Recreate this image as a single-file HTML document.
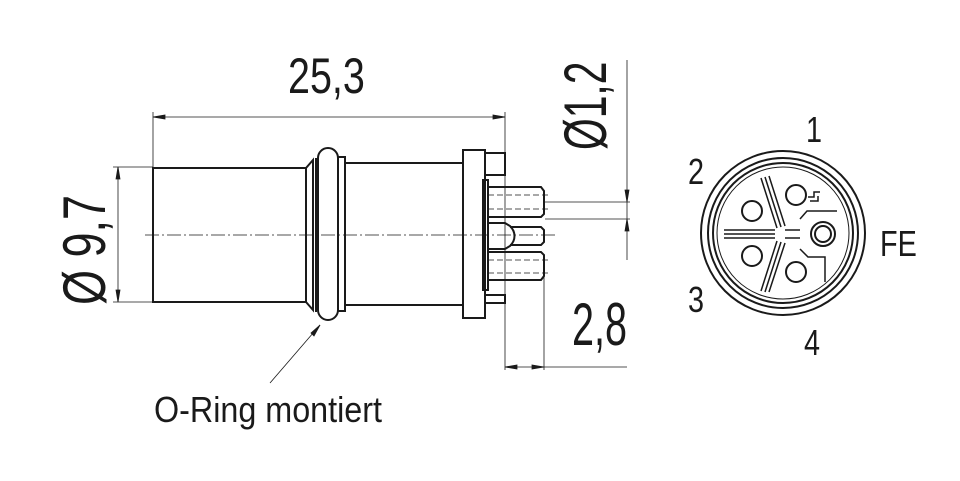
<!DOCTYPE html>
<html><head><style>body{margin:0;background:#fff}svg{display:block}</style></head><body>
<svg width="960" height="481" viewBox="0 0 960 481" xmlns="http://www.w3.org/2000/svg" font-family="Liberation Sans, sans-serif" fill="none" stroke="#1a1a1a">
<g stroke-width="0.8">
<line x1="153" y1="112" x2="153" y2="167"/>
<line x1="505" y1="112" x2="505" y2="370"/>
<line x1="153" y1="117" x2="505" y2="117"/>
<path d="M153 117 l12 -2 v4z M505 117 l-12 -2 v4z" fill="#1a1a1a"/>
<line x1="113" y1="167" x2="153" y2="167"/>
<line x1="113" y1="302" x2="153" y2="302"/>
<line x1="118" y1="167" x2="118" y2="302"/>
<path d="M118 167 l-2 12 h4z M118 302 l-2 -12 h4z" fill="#1a1a1a"/>
<line x1="627" y1="60" x2="627" y2="260"/>
<line x1="545" y1="202" x2="630" y2="202"/>
<line x1="545" y1="219" x2="630" y2="219"/>
<path d="M627 202 l-2 -12 h4z M627 219 l-2 12 h4z" fill="#1a1a1a"/>
<line x1="544" y1="270" x2="544" y2="370"/>
<line x1="505" y1="367" x2="627" y2="367"/>
<path d="M505 367 l12 -2 v4z M544 367 l-12 -2 v4z" fill="#1a1a1a"/>
<line x1="320" y1="325" x2="270" y2="383"/>
<path d="M320 325 l-9 8 l3 3z" fill="#1a1a1a"/>
<line x1="145" y1="235" x2="555" y2="235" stroke-dasharray="14 3 2 3"/>
</g>
<g stroke-width="2">
<rect x="153" y="168" width="153" height="134"/>
<path d="M306 168 L313 160 V310 L306 302"/>
<line x1="316" y1="158" x2="316" y2="312"/>
<rect x="318" y="148" width="20" height="172" rx="10"/>
<rect x="338" y="157" width="7" height="154"/>
<rect x="345" y="163" width="118" height="142"/>
<rect x="463" y="150" width="22" height="168"/>
<rect x="485" y="153" width="20" height="22"/>
<rect x="485" y="295" width="20" height="8"/>
<rect x="483" y="180" width="5" height="110"/>
<path d="M488 187 H541 l3 4 V214 l-3 3 H488"/>
<path d="M488 223 H505 l5 3 c6 6 6 14 0 20 l-5 3 H488"/>
<path d="M510 227 H541 l3 3 V242 l-3 3 H510"/>
<path d="M488 252 H541 l3 3 V276 l-3 4 H488"/>
</g>
<g stroke-width="0.8" stroke-dasharray="6 3">
<line x1="488" y1="195" x2="550" y2="195"/><line x1="488" y1="209" x2="550" y2="209"/>
<line x1="488" y1="260" x2="550" y2="260"/><line x1="488" y1="273" x2="550" y2="273"/>
</g>
<g stroke-width="2">
<circle cx="783" cy="233" r="82"/>
<circle cx="783" cy="233" r="75"/>
<circle cx="783" cy="233" r="70"/>
<circle cx="783" cy="233" r="66" stroke-width="1"/>
<circle cx="752" cy="211" r="10"/><circle cx="752" cy="256" r="10"/>
<circle cx="796" cy="195" r="10"/><circle cx="796" cy="272" r="10"/>
<circle cx="823" cy="234" r="12"/><circle cx="823" cy="234" r="8"/>
</g>
<g stroke-width="1.5">
<path d="M761 178 L777 228 M765 177 L781 227 M769 176 L785 226"/>
<path d="M724 230 H775 M724 234 H775 M724 238 H775"/>
<path d="M761 291 L777 241 M765 292 L781 242 M769 292 L785 243"/>
<path d="M785 230 H800 M785 238 H800"/>
<path d="M800 219 L807 211 H837 M800 249 L808 257 H825 V282"/>
<path d="M808 197 h6 v-5 h6 M810 201 h8 v-5"/>
</g>
<g fill="#1a1a1a" stroke="none">
<text transform="translate(288,93) scale(0.79,1)" font-size="50">25,3</text>
<text transform="translate(572,345) scale(0.66,1)" font-size="60">2,8</text>
<text transform="translate(105,305) rotate(-90) scale(0.75,1)" font-size="60">Ø 9,7</text>
<text transform="translate(606,150) rotate(-90) scale(0.68,1)" font-size="60">Ø1,2</text>
</g>
<g font-size="36" fill="#1a1a1a" stroke="none">
<text transform="translate(154,422) scale(0.8,1)" textLength="285" lengthAdjust="spacingAndGlyphs">O-Ring montiert</text>
<text transform="translate(806,142) scale(0.8,1)">1</text>
<text transform="translate(688,184) scale(0.8,1)">2</text>
<text transform="translate(688,312) scale(0.8,1)">3</text>
<text transform="translate(804,355) scale(0.8,1)">4</text>
<text transform="translate(880,256) scale(0.8,1)">FE</text>
</g>
</svg>
</body></html>
